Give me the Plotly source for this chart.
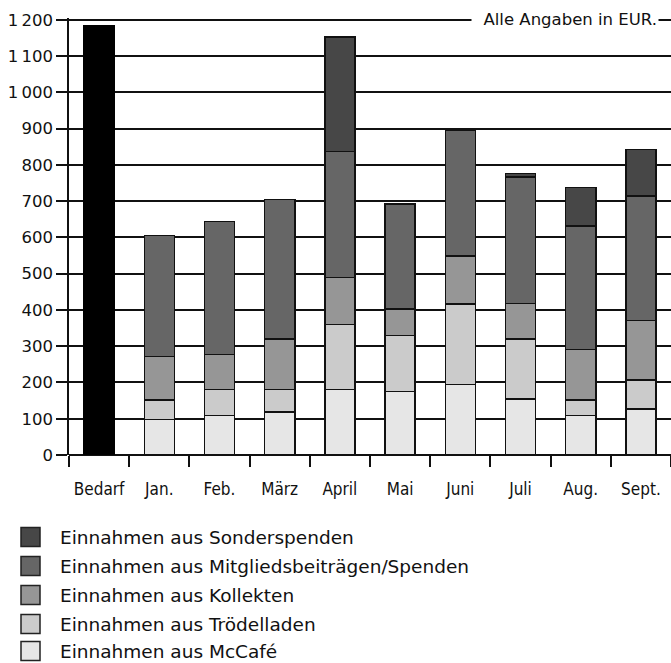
import plotly.graph_objects as go

# ---- data ----
categories = ["Bedarf", "Jan.", "Feb.", "März", "April", "Mai", "Juni", "Juli", "Aug.", "Sept."]
months = categories[1:]
bedarf = [1184]
mccafe = [98, 109, 119, 180, 175, 195, 155, 109, 127]
troedel = [53, 71, 61, 180, 154, 222, 165, 42, 80]
kollekten = [121, 97, 140, 130, 74, 132, 98, 140, 164]
mitglieds = [333, 367, 385, 347, 289, 347, 348, 341, 343]
sonder = [None, None, None, 315, None, 4, 10, 105, 128]

series_names = [
    "Einnahmen aus Sonderspenden",
    "Einnahmen aus Mitgliedsbeiträgen/Spenden",
    "Einnahmen aus Kollekten",
    "Einnahmen aus Trödelladen",
    "Einnahmen aus McCafé",
]
series_values = [sonder, mitglieds, kollekten, troedel, mccafe]
series_colors = ["#474747", "#666666", "#969696", "#cbcbcb", "#e6e6e6"]

y_tickvals = [0, 100, 200, 300, 400, 500, 600, 700, 800, 900, 1000, 1100, 1200]
y_ticktext = ["0", "100", "200", "300", "400", "500", "600", "700", "800", "900",
              "1\u2009000", "1\u2009100", "1\u2009200"]

# ---- layout geometry ----
W, H = 671, 663
Y0_PX = 455          # pixel row of value 0
PX_PER_UNIT = 0.3625
Y_MAX = 1205
ML, MR, MB = 69, 0, H - Y0_PX
PH = Y_MAX * PX_PER_UNIT
MT = H - MB - PH
PW = W - ML - MR


def px_x(px):
    return (px - ML) / PW


def px_y(py):
    return (Y0_PX - py) / PH


fig = go.Figure()

fig.add_trace(go.Bar(x=["Bedarf"], y=bedarf, marker=dict(color="#000000", line=dict(color="#000000", width=1.5)),
                     showlegend=False, name="Bedarf"))

# stacking order bottom->top
for name, vals, col in reversed(list(zip(series_names, series_values, series_colors))):
    fig.add_trace(go.Bar(x=months, y=vals, name=name,
                         marker=dict(color=col, line=dict(color="#111111", width=1.5)),
                         showlegend=False))

fig.update_layout(
    width=W, height=H,
    margin=dict(l=ML, r=MR, t=MT, b=MB, autoexpand=False),
    barmode="stack", bargap=0.5,
    paper_bgcolor="white", plot_bgcolor="white",
    showlegend=False,
    font=dict(family="DejaVu Sans", color="#111111"),
)

fig.update_xaxes(
    categoryorder="array", categoryarray=categories,
    tickson="boundaries", ticks="outside", ticklen=11, tickwidth=1.5, tickcolor="#111111",
    showgrid=False, showline=False, tickangle=0, automargin=False,
    tickfont=dict(family="DejaVu Sans Condensed, Liberation Sans", size=17, color="#111111"),
    ticklabelstandoff=22,
)

fig.update_yaxes(
    range=[0, Y_MAX], tickvals=y_tickvals, ticktext=y_ticktext, automargin=False,
    ticks="outside", ticklen=11, tickwidth=1.5, tickcolor="#111111",
    showgrid=True, gridcolor="#111111", gridwidth=1.5,
    zeroline=True, zerolinecolor="#111111", zerolinewidth=1.5,
    showline=True, linecolor="#111111", linewidth=1.5,
    tickfont=dict(family="DejaVu Sans", size=16.5, color="#111111"),
    ticklabelstandoff=0,
)

fig.add_annotation(
    xref="paper", yref="y", x=px_x(659), y=1200, xanchor="right", yanchor="middle",
    text="\u00a0\u00a0Alle Angaben in EUR.", showarrow=False,
    font=dict(family="DejaVu Sans", size=16.5, color="#111111"),
    bgcolor="white", borderpad=1,
)

# manual legend
row_y = [537, 566, 595, 624, 651]
for name, col, ry in zip(series_names, series_colors, row_y):
    fig.add_shape(type="rect", xref="paper", yref="paper",
                  x0=px_x(21), x1=px_x(40), y0=px_y(ry + 9.5), y1=px_y(ry - 9.5),
                  fillcolor=col, line=dict(color="#222222", width=1.5))
    fig.add_annotation(xref="paper", yref="paper", x=px_x(58), y=px_y(ry),
                       xanchor="left", yanchor="middle", text=name, showarrow=False,
                       font=dict(family="DejaVu Sans", size=18.5, color="#111111"))

fig.write_html("out.html", config={"displayModeBar": False},
               post_script="document.body.style.margin='0';document.body.style.overflow='hidden';")
